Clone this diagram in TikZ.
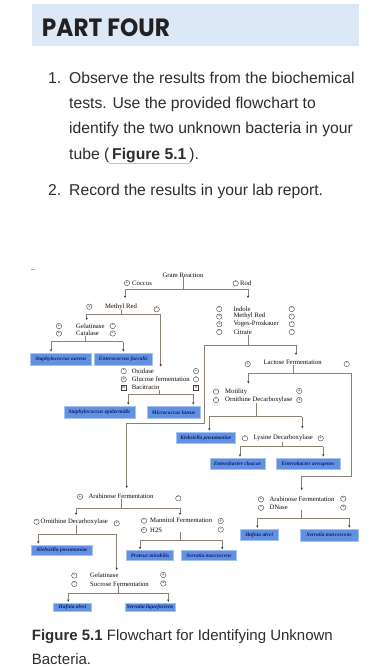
\documentclass[tikz,border=0pt]{standalone}
\usepackage{fontspec}
\setmainfont{Liberation Sans}
\newfontfamily\fcserif{Liberation Serif}
\newfontfamily\headfont{Poppins}
\usetikzlibrary{arrows.meta}
\definecolor{headblue}{RGB}{220,232,245}
\definecolor{bodyc}{RGB}{45,45,45}
\definecolor{linec}{RGB}{140,128,116}
\definecolor{bxfill}{RGB}{98,145,225}
\definecolor{bxedge}{RGB}{165,195,242}
\definecolor{bxtext}{RGB}{15,30,110}
\definecolor{ulc}{RGB}{195,195,195}
\definecolor{dashc}{RGB}{170,170,170}
\begin{document}
\begin{tikzpicture}[x=1pt,y=-1pt,
  body/.style={anchor=base west, inner sep=0pt, font=\fontsize{15.7}{18}\selectfont, text=bodyc},
  capt/.style={anchor=base west, inner sep=0pt, font=\fontsize{15}{18}\selectfont, text=bodyc},
  lbl/.style={anchor=west, inner sep=0pt, font=\fcserif\fontsize{6.7}{7}\selectfont, text=black!95},
  sg/.style={circle, draw=black!75, line width=0.4pt, inner sep=0pt, minimum size=5.4pt, font=\fcserif\fontsize{5}{5}\selectfont},
  sq/.style={rectangle, draw=black!75, line width=0.4pt, inner sep=0pt, minimum size=5pt, font=\fcserif\fontsize{4}{4}\selectfont},
  bx/.style={fill=bxfill, draw=bxedge, line width=0.9pt, inner sep=0pt, font=\fcserif\bfseries\itshape\fontsize{5.4}{6}\selectfont, text=bxtext},
  conn/.style={draw=linec, line width=0.6pt},
  arr/.style={conn, shorten >=1pt, -{Stealth[length=2.4pt, width=2.2pt, color=black!80]}}
]
\useasboundingbox (0,0) rectangle (390,667);
\fill[white] (0,0) rectangle (390,667);

% header
\fill[headblue] (31.7,4) rectangle (359.3,46);
\node[anchor=base west, inner sep=0pt, font=\headfont\bfseries\fontsize{25}{28}\selectfont, text=black!87] (title) at (41.7,36) {\scalebox{0.93}[1]{PART FOUR}};

% body text
\node[body] (n1) at (48,83.3) {1.};
\node[body] (t1) at (69,83.3) {Observe the results from the biochemical};
\node[body] (t2) at (69,108.3) {tests. Use the provided flowchart to};
\node[body] (t3) at (69,133.3) {identify the two unknown bacteria in your};
\node[body] (t4a) at (69,159.3) {tube (};
\node[body, font=\bfseries\fontsize{15.7}{18}\selectfont] (fig) at ([xshift=2.5pt]t4a.base east) {Figure 5.1};
\node[body] (t4c) at ([xshift=2.5pt]fig.base east) {).};
\draw[ulc, line width=1pt] ([xshift=-3pt,yshift=-4pt]fig.base west) -- ([xshift=3pt,yshift=-4pt]fig.base east);
\node[body] (n2) at (48,195.7) {2.};
\node[body] (t5) at (69,195.7) {Record the results in your lab report.};

% stray mark
\coordinate (da) at (31,269); \coordinate (db) at (35,269);
\draw[dashc, line width=0.6pt] (da) -- (db);

% ---------- Gram reaction
\node[lbl, anchor=center] (gram) at (183,275) {Gram Reaction};
\coordinate (gj) at (183,289);
\coordinate (gl) at (125,289); \coordinate (gr) at (248,289);
\coordinate (gla) at (125,299); \coordinate (gra) at (248,299);
\draw[conn] (gram.south) -- (gj);
\draw[conn] (gl) -- (gr);
\draw[arr] (gl) -- (gla);
\draw[arr] (gr) -- (gra);
\node[sg] (cocS) at (127,283) {+}; \node[lbl] (coc) at (132,283) {Coccus};
\node[sg] (rodS) at (235.7,283.3) {-}; \node[lbl] (rod) at (240,283.3) {Rod};

% ---------- Methyl Red (coccus)
\node[lbl] (mr) at (105,306.7) {Methyl Red};
\node[sg] (mrP) at (89.3,306.7) {+}; \node[sg] (mrM) at (156.7,309.3) {-};
\coordinate (mrj) at (121.5,314.3); \coordinate (mrl) at (86.7,314.3); \coordinate (mrr) at (160.7,314.3);
\coordinate (gelIn) at (86.7,321); \coordinate (oxIn) at (160.7,367.5);
\draw[conn] (mr.south -| mrj) -- (mrj);
\draw[conn] (mrl) -- (mrr);
\draw[arr] (mrl) -- (gelIn);
\draw[arr] (mrr) -- (oxIn);

% Gelatinase / Catalase
\node[lbl] (gel) at (76,326) {Gelatinase};
\node[lbl] (cat) at (76,333.7) {Catalase};
\node[sg] (gelP) at (59,326) {+}; \node[sg] (catP) at (59,333.5) {+};
\node[sg] (gelM) at (112.7,326) {-}; \node[sg] (catM) at (112.7,333.5) {-};
\node[bx, minimum width=61.7pt, minimum height=12pt] (saur) at (60.85,359) {Staphylococcus aureus};
\node[bx, minimum width=58.7pt, minimum height=12pt] (efae) at (123.35,359) {Enterococcus faecalis};
\coordinate (cj) at (85,341.7); \coordinate (cl) at (51,341.7); \coordinate (cr) at (123.3,341.7);
\draw[conn] (cat.south -| cj) -- (cj);
\draw[conn] (cl) -- (cr);
\draw[arr] (cl) -- (saur.north -| cl);
\draw[arr] (cr) -- (efae.north -| cr);

% Oxidase block
\node[lbl] (ox) at (131.7,371) {Oxidase};
\node[lbl] (glu) at (131.7,379.3) {Glucose fermentation};
\node[lbl] (bac) at (131.7,387.3) {Bacitracin};
\node[sg] (oxM) at (123.7,371) {-}; \node[sg] (gluP) at (123.7,379.3) {+}; \node[sq] (bacR) at (123.7,387.3) {R};
\node[sg] (oxP) at (196,371) {+}; \node[sg] (gluM) at (196,379.3) {-}; \node[sq] (bacS) at (196,387.3) {S};
\node[bx, minimum width=71pt, minimum height=12.3pt] (sepi) at (99.5,412.2) {Staphylococcus epidermidis};
\node[bx, minimum width=52.7pt, minimum height=12.3pt] (mlut) at (173.65,412.2) {Micrococcus luteus};
\coordinate (bj) at (159.3,394.3); \coordinate (bl) at (128.3,394.3); \coordinate (br) at (193.3,394.3);
\draw[conn] (bac.south -| bj) -- (bj);
\draw[conn] (bl) -- (br);
\draw[arr] (bl) -- (sepi.north -| bl);
\draw[arr] (br) -- (mlut.north -| br);

% ---------- Rod block
\node[lbl] (ind) at (233.3,309) {Indole};
\node[lbl] (mr2) at (233.3,316.3) {Methyl Red};
\node[lbl] (vp) at (233.3,324.3) {Voges-Proskauer};
\node[lbl] (cit) at (233.3,332.3) {Citrate};
\node[sg] (indL) at (219.3,309) {-}; \node[sg] (mr2L) at (219.3,316.5) {+};
\node[sg] (vpL) at (219.3,324.2) {+}; \node[sg] (citL) at (219.3,332) {-};
\node[sg] (indR) at (291.7,309) {-}; \node[sg] (mr2R) at (291.7,316.5) {-};
\node[sg] (vpR) at (291.7,324.2) {-}; \node[sg] (citR) at (291.7,332) {-};
\coordinate (rj) at (248.3,345); \coordinate (rl) at (204,345); \coordinate (rr) at (296,345);
\coordinate (lacIn) at (296,356); \coordinate (rk1) at (204,423.3); \coordinate (rk2) at (126.7,423.3);
\coordinate (arLIn) at (126.7,489);
\draw[conn] (cit.south -| rj) -- (rj);
\draw[conn] (rl) -- (rr);
\draw[arr] (rr) -- (lacIn);
\draw[arr] (rl) -- (rk1) -- (rk2) -- (arLIn);

% Lactose fermentation
\node[lbl] (lac) at (263.3,362.7) {Lactose Fermentation};
\node[sg] (lacP) at (247.7,364) {+}; \node[sg] (lacM) at (346.7,364) {-};
\coordinate (lj) at (293,373.3); \coordinate (ll) at (248.3,373.3); \coordinate (lr) at (351.7,373.3);
\coordinate (motIn) at (248.3,384.3); \coordinate (lk1) at (351.7,476); \coordinate (lk2) at (301.7,476);
\coordinate (arRIn) at (301.7,491);
\draw[conn] (lac.south -| lj) -- (lj);
\draw[conn] (ll) -- (lr);
\draw[arr] (ll) -- (motIn);
\draw[arr] (lr) -- (lk1) -- (lk2) -- (arRIn);

% Motility / Ornithine
\node[lbl] (mot) at (225,391.7) {Motility};
\node[lbl] (orn) at (225,400) {Ornithine Decarboxylase};
\node[sg] (motM) at (216,391.5) {-}; \node[sg] (ornM) at (216,400) {-};
\node[sg] (motP) at (299.3,391) {+}; \node[sg] (ornP) at (299.3,400) {+};
\node[bx, minimum width=58.3pt, minimum height=11.5pt] (kpnR) at (205.85,437.8) {Klebsiella pneumoniae};
\coordinate (oj) at (256,416.7); \coordinate (ol) at (209.3,416.7); \coordinate (or) at (302.3,416.7);
\coordinate (lysIn) at (302.3,429.3);
\draw[conn] (orn.south -| oj) -- (oj);
\draw[conn] (ol) -- (or);
\draw[arr] (ol) -- (kpnR.north -| ol);
\draw[arr] (or) -- (lysIn);

% Lysine
\node[lbl] (lys) at (253.3,438.3) {Lysine Decarboxylase};
\node[sg] (lysM) at (245,438.3) {-}; \node[sg] (lysP) at (320.7,438.3) {+};
\node[bx, minimum width=55pt, minimum height=11.5pt] (ecl) at (237.5,463.8) {Enterobacter cloacae};
\node[bx, minimum width=64pt, minimum height=11.5pt] (eae) at (308,463.8) {Enterobacter aerogenes};
\coordinate (yj) at (282,446.7); \coordinate (yl) at (240,446.7); \coordinate (yr) at (323.3,446.7);
\draw[conn] (lys.south -| yj) -- (yj);
\draw[conn] (yl) -- (yr);
\draw[arr] (yl) -- (ecl.north -| yl);
\draw[arr] (yr) -- (eae.north -| yr);

% Right lower: Arabinose / DNase
\node[lbl] (arR) at (269.3,499.3) {Arabinose Fermentation};
\node[lbl] (dna) at (269.3,507.3) {DNase};
\node[sg] (arRP) at (261,499.3) {+}; \node[sg] (dnaM) at (261,507.7) {-};
\node[sg] (arRM) at (343.3,498.7) {-}; \node[sg] (dnaP) at (343.3,507.5) {+};
\node[bx, minimum width=38.3pt, minimum height=11.4pt] (halR) at (259.15,535) {Hafnia alvei};
\node[bx, minimum width=58.3pt, minimum height=12pt] (smaR) at (329.15,535) {Serratia marcescens};
\coordinate (aj) at (301.7,518.3); \coordinate (al) at (257.3,518.3); \coordinate (ar) at (349.3,518.3);
\draw[conn] (dna.south -| aj) -- (aj);
\draw[conn] (al) -- (ar);
\draw[arr] (al) -- (halR.north -| al);
\draw[arr] (ar) -- (smaR.north -| ar);

% Left lower: Arabinose
\node[lbl] (arL) at (88.3,496.7) {Arabinose Fermentation};
\node[sg] (arLP) at (80,496.7) {+}; \node[sg] (arLM) at (178.3,498.3) {-};
\coordinate (bj2) at (121.7,508.3); \coordinate (bl2) at (76,508.3); \coordinate (br2) at (180,508.3);
\coordinate (ornIn) at (76,516); \coordinate (manIn) at (180,516);
\draw[conn] (arL.south -| bj2) -- (bj2);
\draw[conn] (bl2) -- (br2);
\draw[arr] (bl2) -- (ornIn);
\draw[arr] (br2) -- (manIn);

% Ornithine (left)
\node[lbl] (orn2) at (40.5,521.7) {Ornithine Decarboxylase};
\node[sg] (orn2M) at (36.5,521.7) {-}; \node[sg] (orn2P) at (116.7,523.3) {+};
\node[bx, minimum width=61pt, minimum height=10.5pt] (kpnL) at (62.2,550.2) {Klebsiella pneumoniae};
\coordinate (qj) at (76.7,534.3); \coordinate (ql) at (38.3,534.3); \coordinate (qr) at (116.7,534.3);
\coordinate (gel2In) at (116.7,571);
\draw[conn] (orn2.south -| qj) -- (qj);
\draw[conn] (ql) -- (qr);
\draw[arr] (ql) -- (kpnL.north -| ql);
\draw[arr] (qr) -- (gel2In);

% Mannitol / H2S
\node[lbl] (man) at (150,520.7) {Mannitol Fermentation};
\node[lbl] (h2s) at (150,530) {H2S};
\node[sg] (manM) at (144,520.7) {-}; \node[sg] (h2sP) at (144,530) {+};
\node[sg] (manP) at (220.7,521) {+}; \node[sg] (h2sM) at (220.7,529.5) {-};
\node[bx, minimum width=46.6pt, minimum height=10pt] (pmi) at (150,555.7) {Proteus mirabilis};
\node[bx, minimum width=54.3pt, minimum height=10pt] (smaL) at (208.85,555.7) {Serratia marcescens};
\coordinate (mj) at (180,540); \coordinate (ml) at (140,540); \coordinate (mrt) at (222.3,540);
\draw[conn] (h2s.south -| mj) -- (mj);
\draw[conn] (ml) -- (mrt);
\draw[arr] (ml) -- (pmi.north -| ml);
\draw[arr] (mrt) -- (smaL.north -| mrt);

% Gelatinase / Sucrose
\node[lbl] (gel2) at (90,575.7) {Gelatinase};
\node[lbl] (suc) at (90,584) {Sucrose Fermentation};
\node[sg] (gel2M) at (74.3,575.5) {-}; \node[sg] (sucM) at (74.3,584) {-};
\node[sg] (gel2P) at (163.3,575) {+}; \node[sg] (sucP) at (163.3,583.5) {+};
\node[bx, minimum width=38.4pt, minimum height=8.4pt] (halL) at (72.5,607.5) {Hafnia alvei};
\node[bx, minimum width=50pt, minimum height=8.4pt] (sli) at (150,607.5) {Serratia liquefaciens};
\coordinate (sj) at (118,593.3); \coordinate (sl) at (68.3,593.3); \coordinate (sr) at (168.3,593.3);
\draw[conn] (suc.south -| sj) -- (sj);
\draw[conn] (sl) -- (sr);
\draw[arr] (sl) -- (halL.north -| sl);
\draw[arr] (sr) -- (sli.north -| sr);

% caption
\node[capt] (cap1) at (31.7,640) {\textbf{Figure 5.1} Flowchart for Identifying Unknown};
\node[capt] (cap2) at (31.7,664) {Bacteria.};
\end{tikzpicture}
\end{document}
